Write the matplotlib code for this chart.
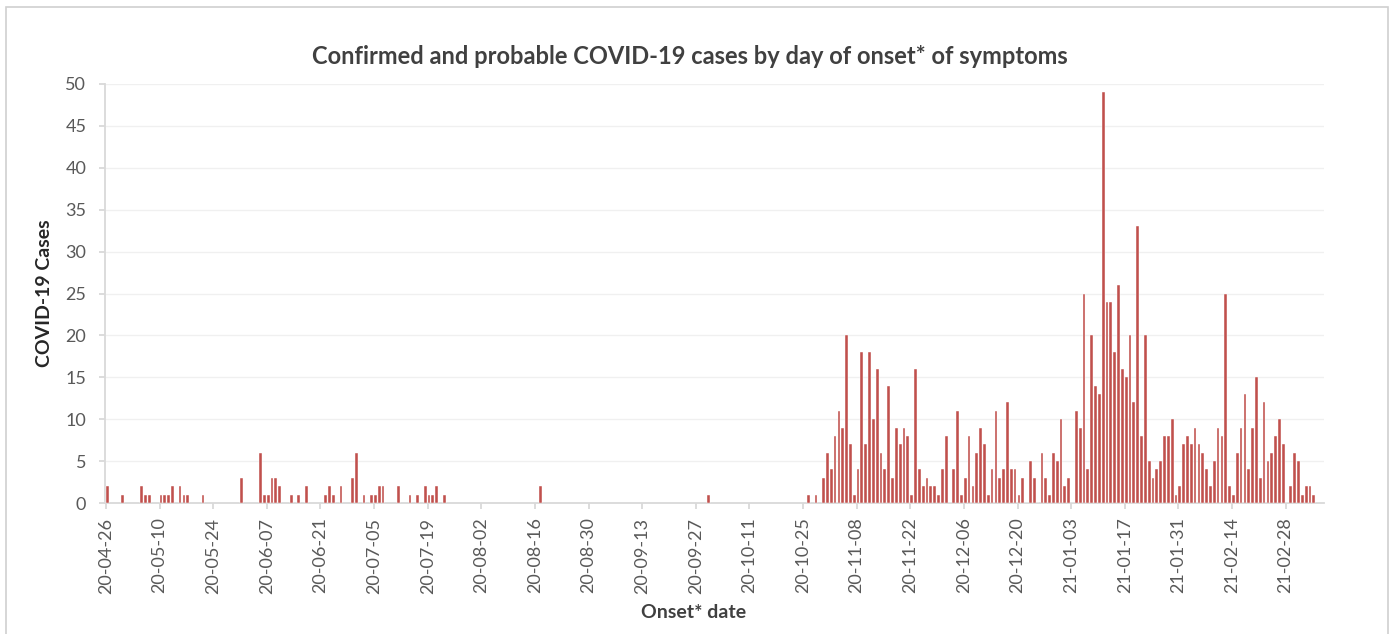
import matplotlib
matplotlib.use("Agg")
import matplotlib.pyplot as plt
import matplotlib.dates as mdates
import matplotlib.patches as mpatches
import pandas as pd
import numpy as np

plt.rcParams['font.family'] = ['Lato', 'DejaVu Sans']

# ---- data ----
early_dates = ["2020-04-26", "2020-04-30", "2020-05-05", "2020-05-06", "2020-05-07",
               "2020-05-10", "2020-05-11", "2020-05-12", "2020-05-13", "2020-05-15",
               "2020-05-16", "2020-05-17", "2020-05-21", "2020-05-31", "2020-06-05",
               "2020-06-06", "2020-06-07", "2020-06-08", "2020-06-09", "2020-06-10",
               "2020-06-13", "2020-06-15", "2020-06-17", "2020-06-22", "2020-06-23",
               "2020-06-24", "2020-06-26", "2020-06-29", "2020-06-30", "2020-07-02",
               "2020-07-04", "2020-07-05", "2020-07-06", "2020-07-07", "2020-07-11",
               "2020-07-14", "2020-07-16", "2020-07-18", "2020-07-19", "2020-07-20",
               "2020-07-21", "2020-07-23", "2020-08-17", "2020-09-30", "2020-10-26",
               "2020-10-28"]
early_cases = [2, 1, 2, 1, 1,
               1, 1, 1, 2, 2,
               1, 1, 1, 3, 6,
               1, 1, 3, 3, 2,
               1, 1, 2, 1, 2,
               1, 2, 3, 6, 1,
               1, 1, 2, 2, 2,
               1, 1, 2, 1, 1,
               2, 1, 2, 1, 1,
               1]

daily_start = "2020-10-30"
daily_cases = [3, 6, 4, 8, 11, 9, 20, 7, 1, 4, 18, 7, 18, 10, 16, 6, 4, 14, 3, 9,
               7, 9, 8, 1, 16, 4, 2, 3, 2, 2, 1, 4, 8, 0, 4, 11, 1, 3, 8, 2,
               6, 9, 7, 1, 4, 11, 3, 4, 12, 4, 4, 1, 3, 0, 5, 3, 0, 6, 3, 1,
               6, 5, 10, 2, 3, 0, 11, 9, 25, 4, 20, 14, 13, 49, 24, 24, 18, 26, 16, 15,
               20, 12, 33, 8, 20, 5, 3, 4, 5, 8, 8, 10, 1, 2, 7, 8, 7, 9, 7, 6,
               4, 2, 5, 9, 8, 25, 2, 1, 6, 9, 13, 4, 9, 15, 3, 12, 5, 6, 8, 10,
               7, 0, 2, 6, 5, 1, 2, 2, 1]

tick_start = "2020-04-26"
tick_end = "2021-02-28"
title = "Confirmed and probable COVID-19 cases by day of onset* of symptoms"
y_label = "COVID-19 Cases"
x_label = "Onset* date"

# ---- assemble ----
dates = list(pd.to_datetime(early_dates)) + list(pd.date_range(daily_start, periods=len(daily_cases), freq="D"))
values = early_cases + daily_cases
xnum = mdates.date2num(dates) + 0.35

tick_dates = pd.date_range(tick_start, tick_end, freq="14D")
tick_num = mdates.date2num(tick_dates)

fig = plt.figure(figsize=(13.9, 6.34), dpi=100)
ax = fig.add_axes([105/1390, 1 - 503/634, (1324-105)/1390, (503-84)/634])

ax.bar(xnum, values, width=0.72, color="#C0504D", edgecolor="white", linewidth=0.3, zorder=3)

ax.set_ylim(0, 50)
ax.set_yticks(np.arange(0, 51, 5))
ax.set_xlim(tick_num[0] - 0.25, tick_num[0] + 318)
ax.set_xticks(tick_num)
ax.set_xticklabels([d.strftime("%y-%m-%d") for d in tick_dates], rotation=90)

ax.grid(axis="y", color="#f0f0f0", linewidth=1.0, zorder=0)
ax.set_axisbelow(True)
for s in ["top", "right"]:
    ax.spines[s].set_visible(False)
for s in ["left", "bottom"]:
    ax.spines[s].set_color("#d9d9d9")
    ax.spines[s].set_linewidth(1.3)

ax.tick_params(axis="x", length=4.5, width=1.3, color="#d9d9d9", pad=6,
               labelsize=13, labelcolor="#595959")
ax.tick_params(axis="y", length=4.5, width=1.3, color="#d9d9d9", pad=9,
               labelsize=13, labelcolor="#595959")

fig.text(690/1390, 1 - 57/634, title, ha="center", va="center",
         fontsize=17, fontweight="bold", color="#404040")
fig.text(45/1390, 1 - 293/634, y_label, ha="center", va="center", rotation=90,
         fontsize=14, fontweight="bold", color="#262626")
fig.text(694/1390, 1 - 612/634, x_label, ha="center", va="center",
         fontsize=14, fontweight="bold", color="#404040")

border = mpatches.Rectangle((5.5/1390, -0.02), (1388 - 5.5)/1390, 1 - 6.5/634 + 0.02,
                            transform=fig.transFigure, fill=False,
                            edgecolor="#d0d0d0", linewidth=1.2)
fig.patches.append(border)

fig.savefig("out.png", dpi=100, facecolor="white")
